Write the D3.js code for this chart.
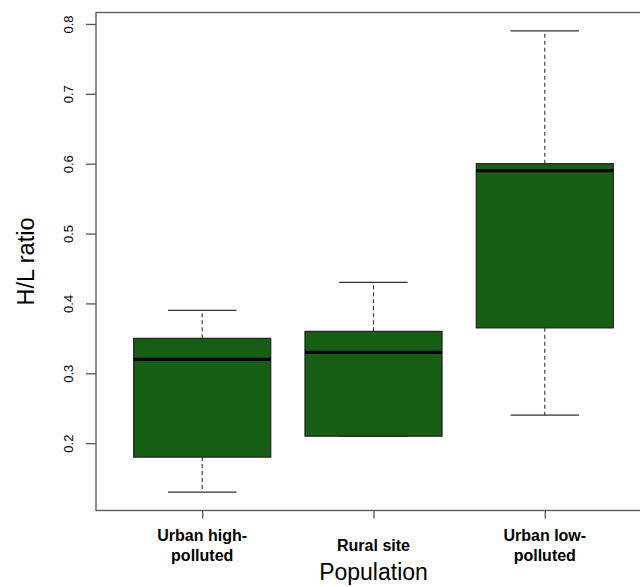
<!DOCTYPE html>
<html>
<head>
  <meta charset="utf-8" />
  <title>H/L ratio by population</title>
  <script src="https://cdn.jsdelivr.net/npm/d3@7"></script>
  <style>
    body { margin: 0; background: #fff; }
    svg text { font-family: "Liberation Sans", Arial, Helvetica, sans-serif; fill: #000; }
  </style>
</head>
<body>
  <div id="chart"></div>
  <script>
    // data
    const categories = ["Urban high-polluted", "Rural site", "Urban low-polluted"];
    const catLines = [["Urban high-", "polluted"], ["Rural site"], ["Urban low-", "polluted"]];
    const whiskerLow = [0.13, 0.21, 0.24];
    const q1 = [0.18, 0.21, 0.365];
    const medians = [0.32, 0.33, 0.59];
    const q3 = [0.35, 0.36, 0.60];
    const whiskerHigh = [0.39, 0.43, 0.79];
    const yTicks = [0.2, 0.3, 0.4, 0.5, 0.6, 0.7, 0.8];

    const width = 640, height = 587;
    const svg = d3.select("#chart").append("svg")
      .attr("width", width)
      .attr("height", height);

    // plot region (R style: range extended by 4%), right edge runs off the picture
    const pLeft = 96, pRight = 651, pTop = 12.5, pBottom = 510.5;

    // x positions are 1..3 like R's boxplot
    const x = d3.scaleLinear().domain([0.38, 3.62]).range([pLeft, pRight]);
    const yMin = 0.13, yMax = 0.79, pad = (yMax - yMin) * 0.04;
    const y = d3.scaleLinear().domain([yMin - pad, yMax + pad]).range([pBottom, pTop]);

    const unit = x(2) - x(1);
    const boxW = unit * 0.8;
    const capW = boxW * 0.5;
    const fill = "#165e14";

    const g = svg.append("g");
    const boxes = g.selectAll("g.box")
      .data(categories.map((c, i) => ({ i: i, c: c })))
      .enter().append("g")
      .attr("class", "box");

    // dashed whiskers
    boxes.append("line")
      .attr("x1", d => x(d.i + 1)).attr("x2", d => x(d.i + 1))
      .attr("y1", d => y(q3[d.i])).attr("y2", d => y(whiskerHigh[d.i]))
      .attr("stroke", "#333").attr("stroke-width", 1.1)
      .attr("stroke-dasharray", "4,3");
    boxes.append("line")
      .attr("x1", d => x(d.i + 1)).attr("x2", d => x(d.i + 1))
      .attr("y1", d => y(q1[d.i])).attr("y2", d => y(whiskerLow[d.i]))
      .attr("stroke", "#333").attr("stroke-width", 1.1)
      .attr("stroke-dasharray", "4,3");

    // caps
    boxes.append("line")
      .attr("x1", d => x(d.i + 1) - capW / 2).attr("x2", d => x(d.i + 1) + capW / 2)
      .attr("y1", d => y(whiskerHigh[d.i])).attr("y2", d => y(whiskerHigh[d.i]))
      .attr("stroke", "#333").attr("stroke-width", 1.3);
    boxes.append("line")
      .attr("x1", d => x(d.i + 1) - capW / 2).attr("x2", d => x(d.i + 1) + capW / 2)
      .attr("y1", d => y(whiskerLow[d.i])).attr("y2", d => y(whiskerLow[d.i]))
      .attr("stroke", "#333").attr("stroke-width", 1.3);

    // box
    boxes.append("rect")
      .attr("x", d => x(d.i + 1) - boxW / 2)
      .attr("width", boxW)
      .attr("y", d => y(q3[d.i]))
      .attr("height", d => y(q1[d.i]) - y(q3[d.i]))
      .attr("fill", fill)
      .attr("stroke", "#222").attr("stroke-width", 1.2);

    // median
    boxes.append("line")
      .attr("x1", d => x(d.i + 1) - boxW / 2).attr("x2", d => x(d.i + 1) + boxW / 2)
      .attr("y1", d => y(medians[d.i])).attr("y2", d => y(medians[d.i]))
      .attr("stroke", "#000").attr("stroke-width", 3.2);

    // frame
    svg.append("rect")
      .attr("x", pLeft).attr("y", pTop)
      .attr("width", pRight - pLeft).attr("height", pBottom - pTop)
      .attr("fill", "none").attr("stroke", "#555").attr("stroke-width", 1.3);

    // y axis
    const yAxis = svg.append("g")
      .attr("transform", `translate(${pLeft},0)`)
      .call(d3.axisLeft(y).tickValues(yTicks).tickSize(10).tickFormat(d3.format(".1f")));
    yAxis.select(".domain").remove();
    yAxis.selectAll(".tick line").attr("stroke", "#555").attr("stroke-width", 1.3);
    yAxis.selectAll(".tick text")
      .attr("font-size", 13)
      .attr("x", null)
      .attr("text-anchor", "middle")
      .attr("transform", "translate(-28,0) rotate(-90)")
      .attr("dy", "0.35em");

    // x axis
    const xAxis = svg.append("g")
      .attr("transform", `translate(0,${pBottom})`)
      .call(d3.axisBottom(x).tickValues([1, 2, 3]).tickSize(8).tickFormat(""));
    xAxis.select(".domain").remove();
    xAxis.selectAll(".tick line").attr("stroke", "#555").attr("stroke-width", 1.3);

    catLines.forEach((lines, i) => {
      const t = svg.append("text")
        .attr("x", x(i + 1))
        .attr("text-anchor", "middle")
        .attr("font-size", 16)
        .attr("font-weight", "bold");
      const y0 = lines.length === 1 ? 551 : 541;
      lines.forEach((s, j) => {
        t.append("tspan").attr("x", x(i + 1)).attr("y", y0 + j * 20).text(s);
      });
    });

    // axis titles
    svg.append("text")
      .attr("x", (pLeft + pRight) / 2).attr("y", 580)
      .attr("text-anchor", "middle")
      .attr("font-size", 23)
      .text("Population");

    svg.append("text")
      .attr("transform", `translate(34,${(pTop + pBottom) / 2}) rotate(-90)`)
      .attr("text-anchor", "middle")
      .attr("font-size", 23.5)
      .text("H/L ratio");
  </script>
</body>
</html>
